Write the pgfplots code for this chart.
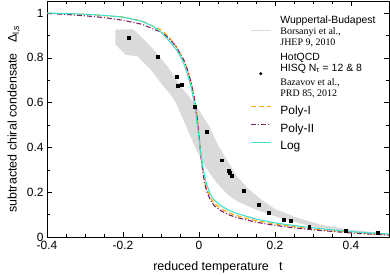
\documentclass[border=0pt]{standalone}
\usepackage{pgfplots}
\pgfplotsset{compat=1.18}
\usepackage{fontspec}
\setmainfont{Liberation Sans}
\newfontfamily\refserif{Liberation Serif}
\definecolor{bandgray}{RGB}{218,218,218}
\definecolor{polyone}{RGB}{255,170,0}
\definecolor{polytwo}{RGB}{125,35,95}
\definecolor{logcyan}{RGB}{64,224,208}
\newcommand{\st}[1]{\rule[-3bp]{0pt}{#1bp}}
\newcommand{\sm}{\fontsize{10.5}{12}\selectfont}
\newcommand{\sr}{\refserif\fontsize{10}{12}\selectfont}
\newcommand{\bg}{\fontsize{12}{14}\selectfont}
\begin{document}
\begin{tikzpicture}
\begin{axis}[name=ax, scale only axis, width=342bp, height=236bp,
  xmin=-0.4, xmax=0.5, ymin=0, ymax=1.054,
  xtick={-0.4,-0.2,0,0.2,0.4}, xticklabels={-0.4,-0.2,0,0.2,0.4},
  ytick={0,0.2,0.4,0.6,0.8,1}, yticklabels={0,0.2,0.4,0.6,0.8,1},
  minor x tick num=3, minor y tick num=1,
  tick align=inside, major tick length=5bp, minor tick length=3bp,
  tick style={black, line width=0.6pt},
  axis line style={line width=0.8pt},
  tick label style={font=\fontsize{12}{14}\selectfont},
  xticklabel style={yshift=-1bp},
  xlabel={reduced temperature\ \ \ t},
  xlabel style={yshift=-5bp},
  ylabel={subtracted chiral condensate\ \ \ Δ\textsubscript{l,s}},
  label style={font=\fontsize{12.5}{14}\selectfont},
  legend style={draw=none, fill=none, at={(0.5936,0.945)}, anchor=north west,
    inner sep=0pt, row sep=0pt, column sep=8bp,
    nodes={inner xsep=1bp, inner ysep=0pt}},
  legend cell align=left,
  legend image code/.code={\draw[#1] (0bp,0bp) -- (20bp,0bp);},
]
% Wuppertal-Budapest band
\addplot[fill=bandgray, draw=none, forget plot] coordinates {
(-0.22,0.926) (-0.175,0.928) (-0.158,0.904) (-0.127,0.851) (-0.083,0.762)
(-0.048,0.672) (-0.025,0.625) (-0.005,0.58) (0.025,0.50) (0.05,0.41)
(0.075,0.34) (0.10,0.27) (0.13,0.215) (0.165,0.165) (0.2,0.125)
(0.26,0.085) (0.32,0.055) (0.4,0.032) (0.47,0.02) (0.495,0.016)
(0.495,0.008) (0.4,0.022) (0.32,0.04) (0.27,0.058) (0.208,0.088)
(0.146,0.125) (0.1,0.16) (0.075,0.19) (0.045,0.245) (0.01,0.33)
(-0.015,0.42) (-0.043,0.531) (-0.061,0.6) (-0.074,0.635) (-0.092,0.67)
(-0.127,0.747) (-0.162,0.807) (-0.193,0.814) (-0.22,0.859)
};
% Poly-I
\addplot[polyone, line width=1.1pt, dash pattern=on 5bp off 3bp, forget plot] coordinates {
(-0.4,1.0) (-0.3,0.995) (-0.2,0.982) (-0.15,0.965) (-0.1,0.925) (-0.08,0.895)
(-0.06,0.85) (-0.04,0.79) (-0.03,0.745) (-0.02,0.685) (-0.01,0.60) (-0.005,0.54)
(0,0.46) (0.005,0.37) (0.01,0.30) (0.015,0.25) (0.02,0.215) (0.03,0.175)
(0.04,0.15) (0.06,0.125) (0.08,0.107) (0.1,0.095) (0.15,0.073) (0.2,0.058)
(0.25,0.046) (0.3,0.036) (0.35,0.028) (0.4,0.021) (0.45,0.015) (0.5,0.010)
};
% Poly-II
\addplot[polytwo, line width=1.1pt, dash pattern=on 5bp off 2bp on 1bp off 2bp, forget plot] coordinates {
(-0.4,0.998) (-0.35,0.994) (-0.3,0.988) (-0.25,0.98) (-0.2,0.968) (-0.15,0.95)
(-0.1,0.915) (-0.08,0.89) (-0.06,0.85) (-0.04,0.79) (-0.03,0.745) (-0.02,0.685)
(-0.01,0.60) (-0.005,0.535) (0,0.455) (0.005,0.36) (0.01,0.29) (0.015,0.24)
(0.02,0.205) (0.03,0.165) (0.04,0.14) (0.06,0.115) (0.08,0.098) (0.1,0.087)
(0.15,0.066) (0.2,0.052) (0.25,0.041) (0.3,0.032) (0.35,0.025) (0.4,0.018)
(0.45,0.013) (0.5,0.009)
};
% Log
\addplot[logcyan, line width=1.1pt, forget plot] coordinates {
(-0.4,1.0) (-0.35,0.998) (-0.3,0.995) (-0.25,0.99) (-0.2,0.982) (-0.15,0.963)
(-0.12,0.94) (-0.1,0.915) (-0.08,0.878) (-0.06,0.838) (-0.05,0.81) (-0.04,0.775)
(-0.03,0.725) (-0.02,0.665) (-0.015,0.62) (-0.01,0.57) (-0.005,0.505) (0,0.44)
(0.005,0.37) (0.01,0.315) (0.015,0.27) (0.02,0.235) (0.03,0.19) (0.04,0.165)
(0.06,0.137) (0.08,0.118) (0.1,0.105) (0.15,0.08) (0.2,0.063) (0.25,0.051)
(0.3,0.041) (0.35,0.032) (0.4,0.024) (0.45,0.018) (0.5,0.013)
};
% HotQCD points
\addplot[only marks, mark=square*, mark size=1.5pt, black, forget plot] coordinates {
(-0.185,0.889) (-0.109,0.805) (-0.058,0.716) (-0.056,0.676) (-0.046,0.680)
(-0.012,0.580) (0.021,0.471) (0.059,0.343) (0.079,0.295) (0.080,0.285)
(0.087,0.273) (0.117,0.206) (0.156,0.143) (0.184,0.109) (0.223,0.079)
(0.242,0.073) (0.290,0.046) (0.386,0.028) (0.470,0.017)
};
\addlegendimage{empty legend}
\addlegendentry{\sm\st{12}Wuppertal-Budapest}
\addlegendimage{bandgray, line width=1.2pt}
\addlegendentry{\sr\st{13}Borsanyi et al.,}
\addlegendimage{empty legend}
\addlegendentry{\sr\st{12.5}JHEP 9, 2010}
\addlegendimage{empty legend}
\addlegendentry{\sm\st{16}HotQCD}
\addlegendimage{legend image code/.code={\fill[black] (10bp,-6.5bp) circle (1.3bp);}}
\addlegendentry{\sm\st{12.5}HISQ N\textsubscript{τ} = 12 \& 8}
\addlegendimage{empty legend}
\addlegendentry{\sr\st{13}Bazavov et al.,}
\addlegendimage{empty legend}
\addlegendentry{\sr\st{12.5}PRD 85, 2012}
\addlegendimage{polyone, line width=1.1pt, dash pattern=on 5bp off 3bp}
\addlegendentry{\bg\st{20}Poly-I}
\addlegendimage{polytwo, line width=1.1pt, dash pattern=on 5bp off 2bp on 1bp off 2bp}
\addlegendentry{\bg\st{19}Poly-II}
\addlegendimage{logcyan, line width=1.1pt}
\addlegendentry{\bg\st{18.5}Log}
\end{axis}
\pgfresetboundingbox
\path[use as bounding box] ([shift={(-47bp,-38bp)}]ax.south west) rectangle ([shift={(1bp,1bp)}]ax.north east);
\end{tikzpicture}
\end{document}
